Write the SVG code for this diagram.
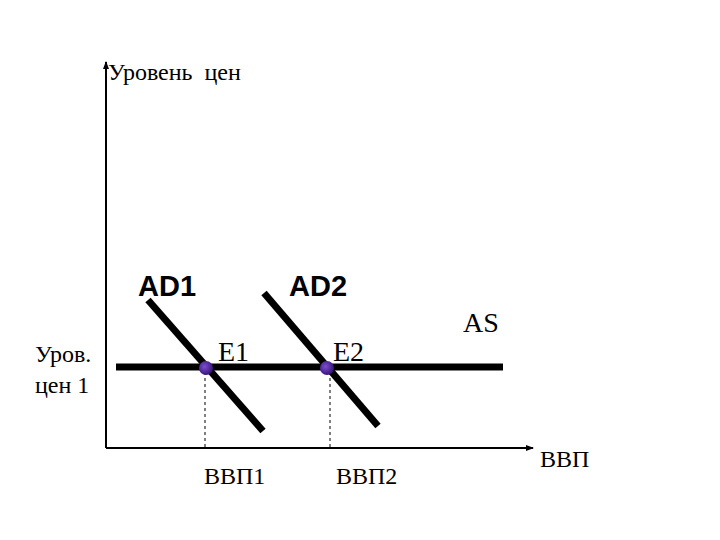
<svg xmlns="http://www.w3.org/2000/svg" width="720" height="540" viewBox="0 0 720 540">
<style>
.t{font-family:"Liberation Serif","Times New Roman",serif;font-size:24px;fill:#000}
.big{font-size:28px}
.b{font-family:"Liberation Sans",Arial,sans-serif;font-size:29px;font-weight:bold;fill:#000}
.curve{stroke:#000;stroke-width:7;stroke-linecap:butt}
.dash{stroke:#000;stroke-width:1;stroke-dasharray:3,3}
</style>
<defs>
<marker id="ah" markerWidth="8" markerHeight="8" refX="7" refY="4" orient="auto" markerUnits="userSpaceOnUse">
<path d="M0,1 L8,4 L0,7 Z" fill="#000"/>
</marker>
<radialGradient id="dot" cx="40%" cy="40%" r="60%">
<stop offset="0" stop-color="#7a4fd0"/>
<stop offset="1" stop-color="#3a1478"/>
</radialGradient>
</defs>
<g id="connectors">
<line id="y-axis" x1="106" y1="448" x2="106" y2="62" stroke="#000" stroke-width="2" marker-end="url(#ah)"/>
<line id="x-axis" x1="106" y1="448" x2="533" y2="448" stroke="#000" stroke-width="2" marker-end="url(#ah)"/>
<line class="dash" x1="205" y1="372" x2="205" y2="447"/>
<line class="dash" x1="330" y1="372" x2="330" y2="447"/>
</g>
<g id="AS">
<line class="curve" x1="116" y1="367" x2="503" y2="367"/>
<text class="t big" x="463" y="332">AS</text>
</g>
<g id="AD1">
<line class="curve" x1="148" y1="300" x2="263" y2="431"/>
<text class="b" x="138" y="296">AD1</text>
</g>
<g id="AD2">
<line class="curve" x1="264" y1="293" x2="378" y2="426"/>
<text class="b" x="289" y="296">AD2</text>
</g>
<g id="E1">
<circle cx="206" cy="368" r="7" fill="url(#dot)"/>
<text class="t big" x="218" y="361">E1</text>
</g>
<g id="E2">
<circle cx="327" cy="368" r="7" fill="url(#dot)"/>
<text class="t big" x="333" y="361">E2</text>
</g>
<g id="labels">
<text class="t" x="108" y="80" xml:space="preserve">Уровень  цен</text>
<text class="t" x="35" y="362">Уров.</text>
<text class="t" x="35" y="393">цен 1</text>
<text class="t" x="204" y="484">ВВП1</text>
<text class="t" x="336" y="484">ВВП2</text>
<text class="t" x="540" y="467">ВВП</text>
</g>
</svg>
